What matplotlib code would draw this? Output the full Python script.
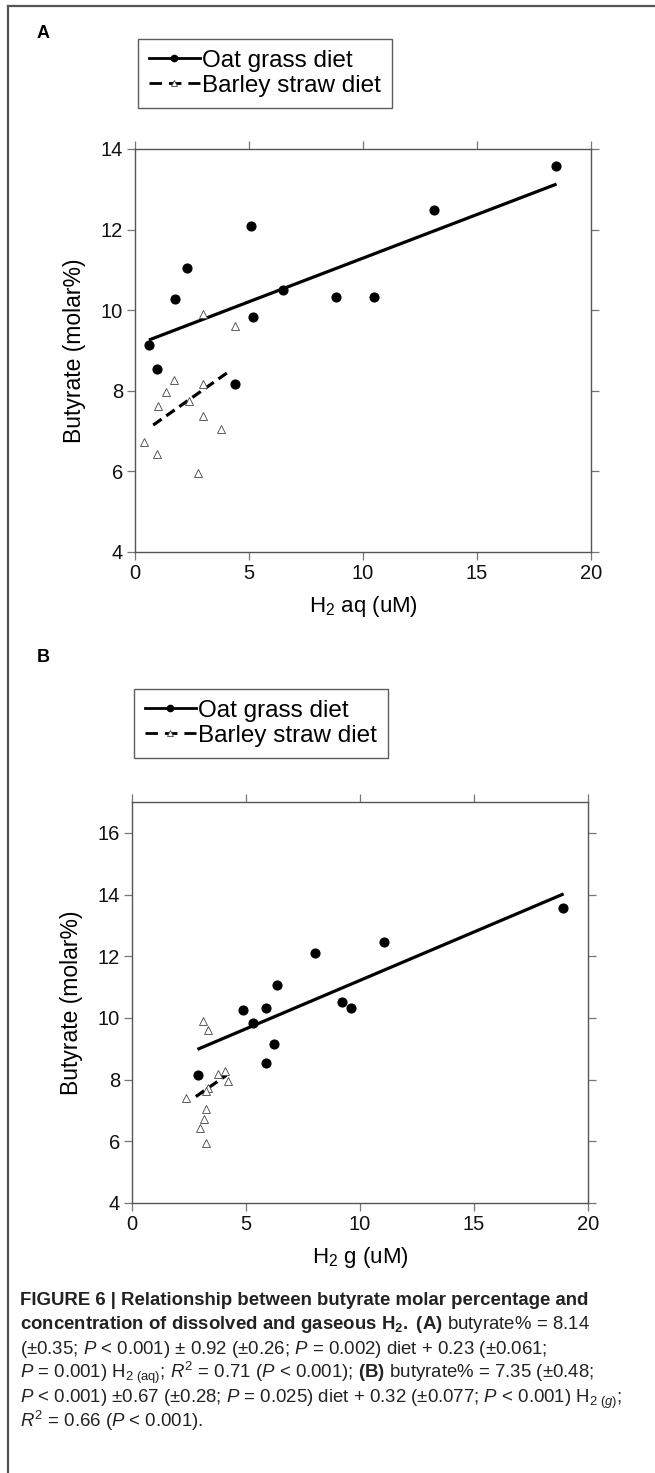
import matplotlib.pyplot as plt
from matplotlib.lines import Line2D

plt.rcParams['font.family'] = ['Liberation Sans', 'DejaVu Sans']
plt.rcParams['mathtext.fontset'] = 'custom'
plt.rcParams['mathtext.rm'] = 'Liberation Sans'
plt.rcParams['mathtext.it'] = 'Liberation Sans:italic'
plt.rcParams['mathtext.bf'] = 'Liberation Sans:bold'

W, H = 655, 1473

# panel A: dissolved H2 (uM) vs butyrate molar %
oat_h2_aq = [0.61, 0.98, 1.74, 2.28, 5.07, 5.19, 6.48, 4.37, 8.82, 10.47, 13.13, 18.46]
oat_but_a = [9.13, 8.53, 10.27, 11.05, 12.10, 9.84, 10.51, 8.17, 10.32, 10.33, 12.48, 13.57]
barley_h2_aq = [0.39, 0.98, 1.02, 1.35, 1.71, 2.38, 2.78, 2.97, 2.97, 3.00, 3.79, 4.37]
barley_but_a = [6.73, 6.43, 7.63, 7.97, 8.27, 7.74, 5.96, 9.91, 8.17, 7.38, 7.05, 9.62]
oat_fit_a_x, oat_fit_a_y = [0.61, 18.49], [9.26, 13.13]
barley_fit_a_x, barley_fit_a_y = [0.80, 4.05], [7.15, 8.45]

# panel B: gaseous H2 (uM) vs butyrate molar %
oat_h2_g = [2.91, 4.89, 5.29, 5.86, 5.89, 6.21, 6.37, 8.01, 9.21, 9.62, 11.05, 18.89]
oat_but_b = [8.16, 10.26, 9.84, 10.31, 8.53, 9.14, 11.06, 12.11, 10.52, 10.33, 12.47, 13.57]
barley_h2_g = [2.36, 3.00, 3.15, 3.24, 3.25, 3.12, 3.32, 3.32, 3.24, 3.76, 4.10, 4.20]
barley_but_b = [7.40, 6.42, 6.72, 7.04, 5.95, 9.91, 9.62, 7.73, 7.62, 8.18, 8.27, 7.96]
oat_fit_b_x, oat_fit_b_y = [2.87, 18.93], [8.98, 14.02]
barley_fit_b_x, barley_fit_b_y = [2.80, 4.14], [7.45, 8.14]

xticks = [0, 5, 10, 15, 20]
yticks_a = [4, 6, 8, 10, 12, 14]
yticks_b = [4, 6, 8, 10, 12, 14, 16]
legend_labels = ['Oat grass diet', 'Barley straw diet']

fig = plt.figure(figsize=(W / 100, H / 100), dpi=100)

# thin gray frame (top and left edges only)
fig.add_artist(Line2D([8 / W, 1], [1 - 6 / H, 1 - 6 / H], color='#555555', lw=1.6))
fig.add_artist(Line2D([8 / W, 8 / W], [0, 1 - 6 / H], color='#555555', lw=1.6))


def box(l, t, r, b):
    return [l / W, 1 - b / H, (r - l) / W, (b - t) / H]


def panel(rect, ox, oy, bx, by, fx, fy, gx, gy, ylim, yticks, xlabel, letter, lx, ly, leg_pos):
    ax = fig.add_axes(rect)
    ax.plot(fx, fy, color='black', lw=2.3, solid_capstyle='butt', zorder=2)
    ax.plot(gx, gy, color='black', lw=2.3, dashes=(3.2, 1.8), zorder=2)
    ax.plot(ox, oy, 'o', color='black', ms=6.3, zorder=3)
    ax.plot(bx, by, '^', mfc='white', mec='#444444', mew=0.6, ms=5.5, zorder=3)
    ax.set_xlim(0, 20)
    ax.set_ylim(*ylim)
    ax.set_xticks(xticks)
    ax.set_yticks(yticks)
    ax.tick_params(direction='out', length=5.5, width=0.9, color='#777777',
                   labelsize=14.5, labelcolor='#111111', top=True, right=True, pad=3)
    for s in ax.spines.values():
        s.set_color('#555555')
        s.set_linewidth(1.0)
    ax.set_xlabel(xlabel, fontsize=16, labelpad=8)
    ax.set_ylabel('Butyrate (molar%)', fontsize=16.5, labelpad=11)
    fig.text(lx / W, 1 - ly / H, letter, fontsize=13, fontweight='bold', ha='center', va='center')
    handles = [
        Line2D([], [], color='black', lw=2.0, marker='o', ms=4.5),
        Line2D([], [], color='black', lw=2.0, dashes=(4.5, 2.5), marker='^',
               mfc='white', mec='#444444', mew=0.6, ms=5),
    ]
    leg = fig.legend(handles, legend_labels, loc='upper left',
                     bbox_to_anchor=(leg_pos[0] / W, 1 - leg_pos[1] / H),
                     fontsize=17.5, frameon=True, fancybox=False, handlelength=2.1,
                     handletextpad=0.1, labelspacing=0.12, borderpad=0.45,
                     borderaxespad=0)
    leg.get_frame().set_edgecolor('#333333')
    leg.get_frame().set_linewidth(1.0)
    return ax


panel(box(135, 149, 591, 552), oat_h2_aq, oat_but_a, barley_h2_aq, barley_but_a,
      oat_fit_a_x, oat_fit_a_y, barley_fit_a_x, barley_fit_a_y,
      (4, 14), yticks_a, r'H$_{\mathregular{2}}$ aq (uM)', 'A', 43, 33, (138, 39))

panel(box(132, 802, 588, 1203), oat_h2_g, oat_but_b, barley_h2_g, barley_but_b,
      oat_fit_b_x, oat_fit_b_y, barley_fit_b_x, barley_fit_b_y,
      (4, 17), yticks_b, r'H$_{\mathregular{2}}$ g (uM)', 'B', 43, 657, (134, 689))

# caption
cap_size = 13.4
cap_lines = [
    ('FIGURE 6 | Relationship between butyrate molar percentage and', 'bold'),
    (r'$\mathbf{concentration\ of\ dissolved\ and\ gaseous\ H_2.\ (A)}$ butyrate% = 8.14', 'normal'),
    (r'(±0.35; $\mathit{P}$ < 0.001) ± 0.92 (±0.26; $\mathit{P}$ = 0.002) diet + 0.23 (±0.061;', 'normal'),
    (r'$\mathit{P}$ = 0.001) H$_{2\ (\mathrm{aq})}$; $\mathit{R}^2$ = 0.71 ($\mathit{P}$ < 0.001); $\mathbf{(B)}$ butyrate% = 7.35 (±0.48;', 'normal'),
    (r'$\mathit{P}$ < 0.001) ±0.67 (±0.28; $\mathit{P}$ = 0.025) diet + 0.32 (±0.077; $\mathit{P}$ < 0.001) H$_{2\ (g)}$;', 'normal'),
    (r'$\mathit{R}^2$ = 0.66 ($\mathit{P}$ < 0.001).', 'normal'),
]
baselines = [1305, 1329, 1354, 1378, 1403, 1427]
for (txt, wt), yb in zip(cap_lines, baselines):
    fig.text(20 / W, 1 - yb / H, txt, fontsize=cap_size, fontweight=wt,
             ha='left', va='baseline', color='#222222')

fig.savefig('out.png', dpi=100)
